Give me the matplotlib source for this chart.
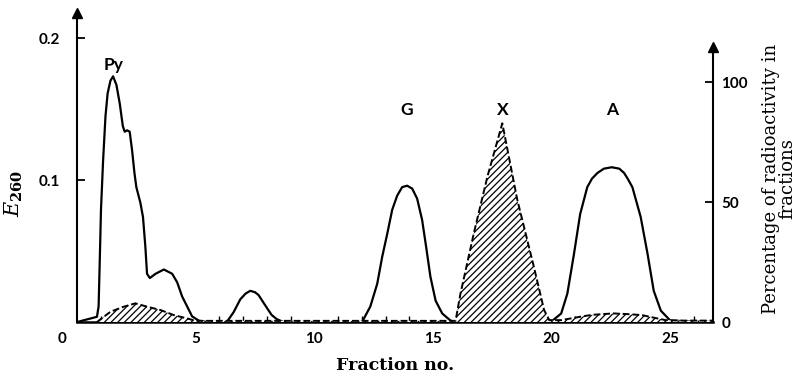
import numpy as np
import matplotlib
matplotlib.use("Agg")
import matplotlib.pyplot as plt

# E260 (left axis)
frac_e = [0.0, 0.84, 0.91, 0.96, 1.01, 1.10, 1.20, 1.29, 1.41, 1.52, 1.66, 1.80, 1.93, 2.01,
          2.11, 2.22, 2.32, 2.42, 2.50, 2.67, 2.78, 2.88, 2.95, 3.07, 3.31, 3.66, 4.01, 4.22,
          4.43, 4.64, 4.85, 5.13, 5.5,
          6.31, 6.6, 6.88, 7.1, 7.3, 7.5, 7.65, 8.0, 8.2, 8.42, 8.7,
          12.01, 12.36, 12.65, 12.86, 13.07, 13.28, 13.49, 13.70, 13.91, 14.12, 14.33, 14.54,
          14.71, 14.89, 15.11, 15.39, 15.74, 15.95,
          19.96, 20.4, 20.66, 20.94, 21.2, 21.5, 21.7, 21.93, 22.2, 22.53, 22.85, 23.05, 23.2,
          23.4, 23.75, 24.04, 24.3, 24.6, 25.0, 26.8]
e260 = [0.0, 0.0037, 0.011, 0.044, 0.079, 0.114, 0.145, 0.161, 0.170, 0.173, 0.167, 0.154,
        0.138, 0.134, 0.135, 0.134, 0.121, 0.105, 0.095, 0.084, 0.074, 0.053, 0.034, 0.031,
        0.034, 0.037, 0.034, 0.028, 0.018, 0.011, 0.004, 0.001, 0.0,
        0.0, 0.007, 0.016, 0.020, 0.022, 0.021, 0.019, 0.010, 0.005, 0.002, 0.0,
        0.0, 0.011, 0.027, 0.046, 0.062, 0.079, 0.089, 0.095, 0.096, 0.094, 0.087, 0.072,
        0.053, 0.032, 0.015, 0.006, 0.001, 0.0,
        0.0, 0.006, 0.020, 0.048, 0.076, 0.095, 0.101, 0.105, 0.108, 0.109, 0.108, 0.105,
        0.101, 0.095, 0.074, 0.048, 0.022, 0.008, 0.001, 0.0]

# radioactivity % (right axis)
frac_r = [0.84, 1.41, 1.97, 2.46, 2.95, 3.52, 4.08, 4.64, 5.0, 5.5, 15.95, 16.16, 16.72,
          17.29, 17.92, 18.55, 19.25, 19.68, 19.9, 20.4, 20.8, 21.2, 21.7, 22.6, 23.2,
          23.8, 24.46, 24.8, 25.5, 26.8]
pct = [0.0, 4.3, 6.4, 7.8, 6.4, 5.0, 2.9, 1.5, 0.5, 0.5, 0.5, 12.0, 37.0, 60.5, 82.8,
       51.0, 23.0, 5.0, 0.8, 0.8, 1.5, 2.2, 3.0, 3.6, 3.3, 2.9, 1.5, 0.8, 0.6, 0.6]

peak_names = ["Py", "G", "X", "A"]
peak_x = [1.52, 13.9, 17.95, 22.55]
peak_y = [0.181, 0.149, 0.149, 0.149]

xmax = 26.8
left_top = 0.2176
right_top = 128.75
right_arrow = 114.6

plt.rcParams["hatch.linewidth"] = 0.9
plt.rcParams["mathtext.fontset"] = "dejavuserif"
sans = "Lato"
serif = "DejaVu Serif"

fig = plt.figure(figsize=(8.03, 3.78), dpi=100)
ax = fig.add_axes([0.0959, 0.148, 0.7921, 0.8176])
ax2 = ax.twinx()

ax.plot(frac_e, e260, color="black", lw=1.6, solid_joinstyle="round", zorder=3)
ax2.fill_between(frac_r, pct, 0, facecolor="white", edgecolor="black", hatch="/////",
                 linewidth=0, zorder=2)
ax2.plot(frac_r, pct, color="black", lw=1.4, ls=(0, (3.5, 1.5)), zorder=3)

for name, x, y in zip(peak_names, peak_x, peak_y):
    ax.text(x, y, name, ha="center", va="center", fontsize=12.5,
            fontweight="bold", family=sans)

ax.set_xlim(0, xmax)
ax.set_ylim(0, left_top)
ax2.set_ylim(0, right_top)

for a in (ax, ax2):
    a.spines["top"].set_visible(False)
ax.spines["right"].set_visible(False)
ax2.spines["left"].set_visible(False)
ax2.spines["bottom"].set_visible(False)
ax.spines["left"].set_linewidth(1.5)
ax.spines["bottom"].set_linewidth(1.8)
ax2.spines["right"].set_linewidth(1.5)
ax2.spines["right"].set_bounds(0, right_arrow)

# axis arrows
ax.plot([0], [1], marker="^", ms=7, color="black", transform=ax.transAxes, clip_on=False)
ax2.plot([1], [right_arrow], marker="^", ms=7, color="black",
         transform=ax2.get_yaxis_transform(), clip_on=False)

ax.set_yticks([0.1, 0.2])
ax.set_yticklabels(["0.1", "0.2"])
ax.tick_params(axis="y", direction="in", length=6, width=1.3, pad=12, labelsize=11)
ax2.set_yticks([0, 50, 100])
ax2.tick_params(axis="y", direction="in", length=6, width=1.3, pad=6, labelsize=11)

ax.set_xticks([5, 10, 15, 20, 25])
ax.set_xticks(np.arange(1, 27), minor=True)
ax.tick_params(axis="x", which="major", length=0, pad=7, labelsize=11)
ax.tick_params(axis="x", which="minor", direction="in", length=4, width=1.0)
ax.annotate("0", (0, 0), xytext=(-11, -7), textcoords="offset points",
            ha="center", va="top", fontsize=11, fontweight="bold", family=sans,
            annotation_clip=False)

for lab in ax.get_xticklabels() + ax.get_yticklabels() + ax2.get_yticklabels():
    lab.set_fontfamily(sans)
    lab.set_fontweight("bold")

ax.set_xlabel("Fraction no.", family=serif, fontweight="bold", fontsize=12.5, labelpad=8)
ax.set_ylabel(r"$\mathit{E}_{\mathbf{260}}$", fontsize=15, rotation=90)
ax.yaxis.set_label_coords(-0.082, 0.417)
ax2.set_ylabel("Percentage of radioactivity in\nfractions", family=serif, fontsize=13,
               rotation=90, linespacing=0.9)
ax2.yaxis.set_label_coords(1.077, 0.463)

fig.savefig("out.png", dpi=100)
